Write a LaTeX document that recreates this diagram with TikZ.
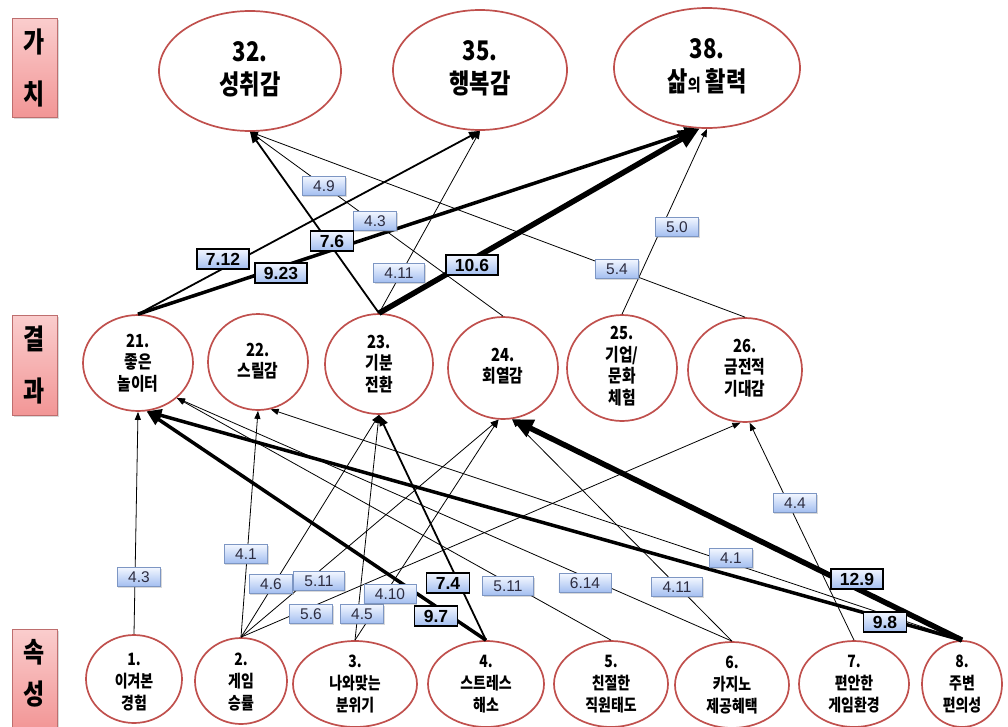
\documentclass[tikz,border=0pt]{standalone}
\usepackage{fontspec}
\setmainfont{Liberation Sans}
\newfontfamily\kr[FakeStretch=0.82]{Noto Sans CJK KR}
\usetikzlibrary{arrows.meta,shapes.geometric,shadows}
\definecolor{ellred}{RGB}{192,80,77}
\definecolor{pinktop}{RGB}{250,205,205}
\definecolor{pinkbot}{RGB}{242,150,150}
\definecolor{pinkedge}{RGB}{190,110,110}
\definecolor{labtop}{RGB}{242,246,255}
\definecolor{labbot}{RGB}{162,190,240}
\definecolor{labedge}{RGB}{125,150,195}
\definecolor{labtext}{RGB}{45,45,65}
\begin{document}
\begin{tikzpicture}[x=1pt,y=-1pt,
  ell/.style={ellipse, draw=ellred, line width=1.7pt, fill=white, inner sep=0pt},
  topt/.style={font=\kr\bfseries\fontsize{27}{33}\selectfont, align=center, inner sep=0pt},
  midt/.style={font=\kr\bfseries\fontsize{18}{21.5}\selectfont, align=center, inner sep=0pt},
  bott/.style={font=\kr\bfseries\fontsize{17}{22}\selectfont, align=center, inner sep=0pt},
  sidebox/.style={draw=pinkedge, line width=0.6pt, top color=pinktop, bottom color=pinkbot,
     minimum width=45pt, align=center, inner sep=0pt,
     drop shadow={shadow xshift=1.5pt, shadow yshift=-1.5pt, opacity=0.3}},
  labthin/.style={draw=labedge, line width=0.6pt, top color=labtop, bottom color=labbot,
     text=labtext, font=\fontsize{15.5}{15.5}\selectfont, inner xsep=11pt, inner ysep=0pt,
     minimum height=19pt,
     drop shadow={shadow xshift=1.2pt, shadow yshift=-1.2pt, opacity=0.3}},
  labbold/.style={draw=black, line width=1.1pt, top color=labtop, bottom color=labbot,
     text=black, font=\bfseries\fontsize{17.5}{17.5}\selectfont, inner xsep=9pt, inner ysep=0pt,
     minimum height=20pt,
     drop shadow={shadow xshift=1.2pt, shadow yshift=-1.2pt, opacity=0.3}},
  arrT/.style={line width=0.8pt, -{Triangle[length=8pt,width=6pt]}},
  arrM/.style={line width=1.8pt, -{Triangle[length=11pt,width=8.5pt]}},
  arrK/.style={line width=3.5pt, -{Triangle[length=15pt,width=12pt]}},
  arrV/.style={line width=5.5pt, -{Triangle[length=21pt,width=18pt]}}
]
\useasboundingbox (0,0) rectangle (1008,726);

% side labels
\node[sidebox, minimum height=99pt, font=\kr\bfseries\fontsize{28}{52}\selectfont] (sv) at (34.5,67.5) {가\\치};
\node[sidebox, minimum height=100pt, font=\kr\bfseries\fontsize{28}{52}\selectfont] (sr) at (34.5,365) {결\\과};
\node[sidebox, minimum height=100pt, anchor=north] (sa) at (34.5,629) {};
\node[font=\kr\bfseries\fontsize{28}{42}\selectfont, align=center, inner sep=0pt] (sat) at (34.5,673) {속\\성};

% top ellipses
\node[ell, minimum width=182pt, minimum height=120pt] (n32) at (250,71) {};
\node[ell, minimum width=174pt, minimum height=120pt] (n35) at (480,70) {};
\node[ell, minimum width=186pt, minimum height=120pt] (n38) at (707,68) {};
\node[topt] (t32) at (250,69) {32.\\성취감};
\node[topt] (t35) at (480,68) {35.\\행복감};
\node[topt] (t38) at (707,66) {38.\\삶{\fontsize{17}{17}\selectfont 의} 활력};

% middle circles
\node[ell, minimum width=110pt, minimum height=96pt] (n21) at (138,363) {};
\node[ell, minimum width=100pt, minimum height=96pt] (n22) at (258,362) {};
\node[ell, minimum width=108pt, minimum height=100pt] (n23) at (379,364) {};
\node[ell, minimum width=110pt, minimum height=102pt] (n24) at (503,368) {};
\node[ell, minimum width=110pt, minimum height=106pt] (n25) at (622,368) {};
\node[ell, minimum width=114pt, minimum height=104pt] (n26) at (745,370) {};
\node[midt] (t21) at (138,363) {21.\\좋은\\놀이터};
\node[midt] (t22) at (258,361) {22.\\스릴감};
\node[midt] (t23) at (379,364) {23.\\기분\\전환};
\node[midt] (t24) at (503,366) {24.\\회열감};
\node[midt] (t25) at (622,366) {25.\\기업/\\문화\\체험};
\node[midt] (t26) at (745,368) {26.\\금전적\\기대감};

% bottom circles
\node[ell, minimum width=96pt, minimum height=88pt] (n1) at (134,679) {};
\node[ell, minimum width=92pt, minimum height=86pt] (n2) at (241,681) {};
\node[ell, minimum width=124pt, minimum height=86pt] (n3) at (355,684) {};
\node[ell, minimum width=116pt, minimum height=86pt] (n4) at (486,684) {};
\node[ell, minimum width=114pt, minimum height=86pt] (n5) at (611,684) {};
\node[ell, minimum width=114pt, minimum height=86pt] (n6) at (732,685) {};
\node[ell, minimum width=110pt, minimum height=86pt] (n7) at (854,684) {};
\node[ell, minimum width=80pt, minimum height=86pt] (n8) at (962,684) {};
\node[bott] (t1) at (134,682) {1.\\이겨본\\경험};
\node[bott] (t2) at (241,682) {2.\\게임\\승률};
\node[bott] (t3) at (355,684) {3.\\나와맞는\\분위기};
\node[bott] (t4) at (486,684) {4.\\스트레스\\해소};
\node[bott] (t5) at (611,684) {5.\\친절한\\직원태도};
\node[bott] (t6) at (732,685) {6.\\카지노\\제공혜택};
\node[bott] (t7) at (854,684) {7.\\편안한\\게임환경};
\node[bott] (t8) at (962,684) {8.\\주변\\편의성};

% connectors: results -> values
\draw[arrT] (n24.north) -- (n32.south);
\draw[arrT] (n26.north) -- (n32.south);
\draw[arrM] (n23.north) -- (n32.south);
\draw[arrT] (n23.north) -- (n35.south);
\draw[arrM] (n21.north) -- (n35.south);
\draw[arrT] (n25.north) -- (n38.south);
\draw[arrK] (n21.north) -- (n38.-97);
\draw[arrV] (n23.north) -- (n38.-97);

% connectors: attributes -> results
\draw[arrT] (n1.north) -- (n21.south);
\draw[arrT] (n2.north) -- (n22.south);
\draw[arrT] (n2.north) -- (n23.south);
\draw[arrT] (n2.north) -- (n24.-95);
\draw[arrT] (n2.north) -- (n26.-95);
\draw[arrT] (n3.north) -- (n23.south);
\draw[arrT] (n3.north) -- (n24.-95);
\draw[arrM] (n4.north) -- (n23.south);
\draw[arrK] (n4.north) -- (n21.-80);
\draw[arrT] (n5.north) -- (n21.-42);
\draw[arrT] (n6.north) -- (n21.-42);
\draw[arrT] (n6.north) -- (n24.-80);
\draw[arrT] (n7.north) -- (n26.-85);
\draw[arrT] (n8.north) -- (n22.-75);
\draw[arrK] (n8.north) -- (n21.-80);
\draw[arrV] (n8.north) -- (n24.-80);

% labels upper band
\node[labthin] (l49) at (324,186) {4.9};
\node[labthin] (l43a) at (375,221) {4.3};
\node[labbold] (l76) at (332,241) {7.6};
\node[labbold] (l712) at (223,259) {7.12};
\node[labbold] (l923) at (281,273) {9.23};
\node[labthin] (l411a) at (399,273) {4.11};
\node[labbold] (l106) at (472,265) {10.6};
\node[labthin] (l50) at (677,227) {5.0};
\node[labthin] (l54) at (617,269) {5.4};

% labels lower band
\node[labthin] (l43b) at (139,577) {4.3};
\node[labthin] (l41a) at (246,554) {4.1};
\node[labthin] (l46) at (271,584) {4.6};
\node[labthin] (l511a) at (319,581) {5.11};
\node[labthin] (l56) at (311,614) {5.6};
\node[labthin] (l45) at (362,614) {4.5};
\node[labthin] (l410) at (390,594) {4.10};
\node[labbold] (l74) at (448,583) {7.4};
\node[labbold] (l97) at (436,616) {9.7};
\node[labthin] (l511b) at (508,586) {5.11};
\node[labthin] (l614) at (585,583) {6.14};
\node[labthin] (l411b) at (677,587) {4.11};
\node[labthin] (l41b) at (731,558) {4.1};
\node[labbold] (l129) at (857,579) {12.9};
\node[labbold] (l98) at (885,622) {9.8};
\node[labthin] (l44) at (795,503) {4.4};
\end{tikzpicture}
\end{document}
